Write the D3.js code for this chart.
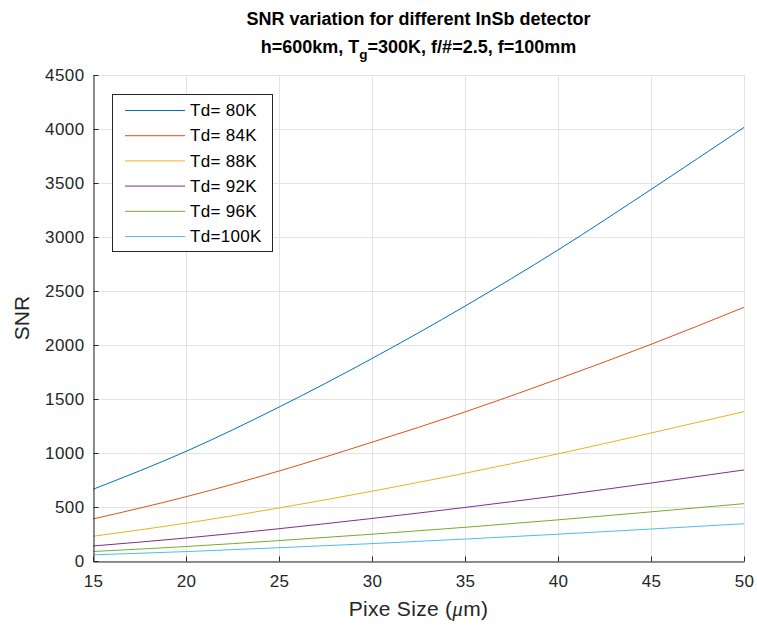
<!DOCTYPE html>
<html>
<head>
<meta charset="utf-8">
<script src="https://cdn.jsdelivr.net/npm/d3@7"></script>
<style>
  html, body { margin: 0; padding: 0; background: #fff; }
  svg { display: block; font-family: "Liberation Sans", Arial, Helvetica, sans-serif; }
</style>
</head>
<body>
<svg id="chart" width="757" height="627"></svg>
<script>
// Pixel sizes (µm) at which SNR was sampled
const pixelSizes = [15, 20, 25, 30, 35, 40, 45, 50];

// SNR for each detector temperature
const snrTd80  = [664, 1015, 1425, 1875, 2360, 2880, 3440, 4015];
const snrTd84  = [389, 595, 833, 1100, 1380, 1685, 2006, 2349];
const snrTd88  = [229, 350, 491, 646, 813, 992, 1185, 1383];
const snrTd92  = [139, 213, 299, 394, 496, 605, 722, 843];
const snrTd96  = [88, 134, 189, 248, 312, 381, 455, 531];
const snrTd100 = [57, 87, 123, 161, 203, 248, 296, 345];

const seriesNames = ["Td= 80K", "Td= 84K", "Td= 88K", "Td= 92K", "Td= 96K", "Td=100K"];
const seriesValues = [snrTd80, snrTd84, snrTd88, snrTd92, snrTd96, snrTd100];
const seriesColors = ["#0072BD", "#D95319", "#EDB120", "#7E2F8E", "#77AC30", "#4DBEEE"];

const xTicks = [15, 20, 25, 30, 35, 40, 45, 50];
const yTicks = [0, 500, 1000, 1500, 2000, 2500, 3000, 3500, 4000, 4500];

const svg = d3.select("#chart");
const plot = { left: 93, right: 744, top: 75, bottom: 561 };
const axisColor = "#262626";

const x = d3.scaleLinear().domain([15, 50]).range([plot.left, plot.right]);
const y = d3.scaleLinear().domain([0, 4500]).range([plot.bottom, plot.top]);

// Grid lines
const grid = svg.append("g").attr("stroke", "#e3e3e3").attr("stroke-width", 1).attr("shape-rendering", "crispEdges");
grid.selectAll("line.gx").data(xTicks).join("line")
  .attr("x1", d => Math.round(x(d)) + 0.5).attr("x2", d => Math.round(x(d)) + 0.5)
  .attr("y1", plot.top).attr("y2", plot.bottom);
grid.selectAll("line.gy").data(yTicks).join("line")
  .attr("y1", d => Math.round(y(d)) + 0.5).attr("y2", d => Math.round(y(d)) + 0.5)
  .attr("x1", plot.left).attr("x2", plot.right);

// Curves
const line = d3.line()
  .x((d, i) => x(pixelSizes[i]))
  .y(d => y(d))
  .curve(d3.curveMonotoneX);

svg.append("g").selectAll("path").data(seriesValues).join("path")
  .attr("d", d => line(d))
  .attr("fill", "none")
  .attr("stroke", (d, i) => seriesColors[i])
  .attr("stroke-width", 1);

// Axes (ticks pointing inward)
const fmt = d3.format("d");
const xAxis = d3.axisBottom(x).tickValues(xTicks).tickFormat(fmt).tickSizeInner(-5).tickSizeOuter(0).tickPadding(14);
const yAxis = d3.axisLeft(y).tickValues(yTicks).tickFormat(fmt).tickSizeInner(-5).tickSizeOuter(0).tickPadding(9);

const gx = svg.append("g").attr("transform", `translate(0,${plot.bottom + 0.5})`).call(xAxis);
const gy = svg.append("g").attr("transform", `translate(${plot.left + 0.5},0)`).call(yAxis);
[gx, gy].forEach(g => {
  g.select(".domain").attr("stroke", axisColor);
  g.selectAll(".tick line").attr("stroke", axisColor);
  g.selectAll(".tick text").attr("fill", axisColor)
    .style("font-size", "17px")
    .style("letter-spacing", "0.4px");
});
gx.selectAll(".tick text").attr("dy", "0.66em");

// Axis titles
svg.append("text")
  .attr("x", (plot.left + plot.right) / 2).attr("y", 616)
  .attr("text-anchor", "middle").attr("fill", axisColor)
  .style("font-size", "21px")
  .style("letter-spacing", "0.3px")
  .call(t => {
    t.append("tspan").text("Pixe Size (");
    t.append("tspan").attr("font-style", "italic").style("font-family", "'Liberation Serif', serif").text("\u03bc");
    t.append("tspan").text("m)");
  });

svg.append("text")
  .attr("transform", `translate(29,${(plot.top + plot.bottom) / 2}) rotate(-90)`)
  .attr("text-anchor", "middle").attr("fill", axisColor)
  .style("font-size", "21px")
  .text("SNR");

// Title
const cx = (plot.left + plot.right) / 2;
const titleStyle = t => t.attr("text-anchor", "middle").attr("fill", "#000")
  .style("font-size", "18px").style("font-weight", "bold");
svg.append("text").attr("x", cx).attr("y", 25).call(titleStyle)
  .text("SNR variation for different InSb detector");
svg.append("text").attr("x", cx).attr("y", 53).call(titleStyle)
  .call(t => {
    t.append("tspan").text("h=600km, T");
    t.append("tspan").attr("dy", 6).style("font-size", "13.5px").text("g");
    t.append("tspan").attr("dy", -6).text("=300K, f/#=2.5, f=100mm");
  });

// Legend
const legend = svg.append("g");
legend.append("rect")
  .attr("x", 112.5).attr("y", 94.5).attr("width", 160).attr("height", 157)
  .attr("fill", "#fff").attr("stroke", axisColor).attr("stroke-width", 1);
const items = legend.selectAll("g.item").data(seriesNames).join("g")
  .attr("transform", (d, i) => `translate(0,${110 + i * 25.2})`);
items.append("line")
  .attr("x1", 125).attr("x2", 185).attr("y1", 0.5).attr("y2", 0.5)
  .attr("stroke", (d, i) => seriesColors[i]).attr("stroke-width", 1);
items.append("text")
  .attr("x", 190).attr("y", 0).attr("dy", "0.36em")
  .attr("fill", "#000")
  .style("font-size", "17px")
  .style("letter-spacing", "0.3px")
  .text(d => d);
</script>
</body>
</html>
